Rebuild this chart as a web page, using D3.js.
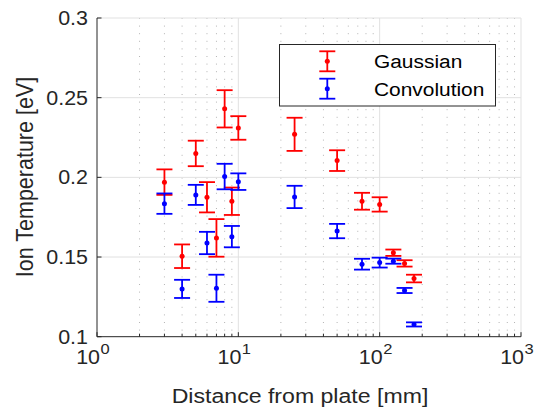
<!DOCTYPE html>
<html>
<head>
<meta charset="utf-8">
<script src="https://cdn.jsdelivr.net/npm/d3@7"></script>
<style>
  html, body { margin: 0; padding: 0; background: #fff; }
  svg { display: block; font-family: "Liberation Sans", Arial, Helvetica, sans-serif; }
</style>
</head>
<body>
<svg id="chart" width="538" height="409"></svg>
<script>
// Distance from the plate [mm]
const distance = [3, 4, 5, 6, 7, 8, 9, 10, 25, 50, 75, 100, 125, 150, 175];

// Ion temperature from the Gaussian fit [eV] and its uncertainty
const gaussian    = [0.197, 0.1505, 0.215, 0.1875, 0.162, 0.243, 0.185, 0.231, 0.227, 0.2105, 0.185, 0.183, 0.1527, 0.146, 0.1365];
const gaussianErr = [0.008, 0.0074, 0.008, 0.0095, 0.0118, 0.0117, 0.0086, 0.0074, 0.0104, 0.0065, 0.0053, 0.0045, 0.002, 0.002, 0.0024];

// Ion temperature from the convolution fit [eV] and its uncertainty
const convolution    = [0.1835, 0.130, 0.189, 0.1588, 0.1304, 0.2005, 0.1628, 0.1973, 0.1877, 0.1663, 0.1455, 0.1465, 0.1474, 0.129, 0.1077];
const convolutionErr = [0.0064, 0.0057, 0.0063, 0.007, 0.0085, 0.008, 0.0067, 0.0052, 0.007, 0.0045, 0.0034, 0.0031, 0.0016, 0.0016, 0.0013];

// Axis ticks
const xTicks = [1, 10, 100, 1000];
const xTickExp = ["0", "1", "2", "3"];
const yTicks = [0.1, 0.15, 0.2, 0.25, 0.3];
const yTickLabels = ["0.1", "0.15", "0.2", "0.25", "0.3"];

const seriesNames = ["Gaussian", "Convolution"];
const seriesColors = ["#ff0000", "#0000ff"];

const svg = d3.select("#chart");
const m = { left: 97, right: 521, top: 18, bottom: 336.7 };
const textColor = "#262626";
const stretch = 1.1; // text is drawn slightly wide

const x = d3.scaleLog().domain([1, 1000]).range([m.left, m.right]);
const y = d3.scaleLinear().domain([0.1, 0.3]).range([m.bottom, m.top]);

// text placed at (px, py), widened horizontally
function label(parent, px, py, str, size, anchor, dy) {
  return parent.append("text")
    .attr("transform", `translate(${px},${py}) scale(${stretch},1)`)
    .attr("text-anchor", anchor || "start")
    .attr("dy", dy || 0)
    .attr("font-size", size)
    .attr("fill", textColor)
    .text(str);
}

// minor log positions 2..9 in each decade
const minor = [];
for (let d = 1; d < 1000; d *= 10) for (let k = 2; k <= 9; k++) minor.push(k * d);

const grid = svg.append("g");
grid.selectAll("line.minor").data(minor).join("line")
  .attr("x1", d => x(d)).attr("x2", d => x(d))
  .attr("y1", m.top).attr("y2", m.bottom)
  .attr("stroke", "#b4b4b4").attr("stroke-width", 1)
  .attr("stroke-dasharray", "1,6.6");
grid.selectAll("line.vmaj").data(xTicks.slice(1)).join("line")
  .attr("x1", d => x(d)).attr("x2", d => x(d))
  .attr("y1", m.top).attr("y2", m.bottom)
  .attr("stroke", "#e1e1e1").attr("stroke-width", 1);
grid.selectAll("line.hmaj").data(yTicks.slice(1)).join("line")
  .attr("class", "hmaj")
  .attr("x1", m.left).attr("x2", m.right)
  .attr("y1", d => y(d)).attr("y2", d => y(d))
  .attr("stroke", "#e1e1e1").attr("stroke-width", 1);

// axis lines and inward ticks
const axes = svg.append("g").attr("stroke", textColor).attr("stroke-width", 1);
axes.append("line").attr("x1", m.left).attr("x2", m.right).attr("y1", m.bottom).attr("y2", m.bottom);
axes.append("line").attr("x1", m.left).attr("x2", m.left).attr("y1", m.top).attr("y2", m.bottom);
axes.selectAll("line.xt").data(minor).join("line")
  .attr("x1", d => x(d)).attr("x2", d => x(d))
  .attr("y1", m.bottom).attr("y2", m.bottom - 3);
axes.selectAll("line.xT").data(xTicks).join("line")
  .attr("x1", d => x(d)).attr("x2", d => x(d))
  .attr("y1", m.bottom).attr("y2", m.bottom - 4.5);
axes.selectAll("line.yT").data(yTicks).join("line")
  .attr("x1", m.left).attr("x2", m.left + 4.5)
  .attr("y1", d => y(d)).attr("y2", d => y(d));

// y tick labels
const yl = svg.append("g");
yTicks.forEach((t, i) => label(yl, m.left - 9, y(t), yTickLabels[i], 19.5, "end", "0.36em"));

// x tick labels: 10 with a raised exponent
const xl = svg.append("g");
xTicks.forEach((t, i) => {
  const cx = x(t) - 2;
  label(xl, cx + 5, 364, "10", 19.5, "end");
  label(xl, cx + 5.5, 354, xTickExp[i], 15, "start");
});

// axis titles
label(svg, 300, 402.5, "Distance from plate [mm]", 21, "middle");
svg.append("text")
  .attr("transform", `translate(33,177) scale(${stretch},1) rotate(-90)`)
  .attr("text-anchor", "middle").attr("font-size", 21.5).attr("fill", textColor)
  .text("Ion Temperature [eV]");

// error bars with caps and centre dots
const capHalf = 8;
function drawSeries(vals, errs, color) {
  const g = svg.append("g").attr("stroke", color).attr("stroke-width", 1.8).attr("fill", color);
  const pts = distance.map((d, i) => ({ d, v: vals[i], e: errs[i] }));
  const bars = g.selectAll("g").data(pts).join("g");
  bars.append("line")
    .attr("x1", p => x(p.d)).attr("x2", p => x(p.d))
    .attr("y1", p => y(p.v + p.e)).attr("y2", p => y(p.v - p.e));
  bars.append("line")
    .attr("x1", p => x(p.d) - capHalf).attr("x2", p => x(p.d) + capHalf)
    .attr("y1", p => y(p.v + p.e)).attr("y2", p => y(p.v + p.e));
  bars.append("line")
    .attr("x1", p => x(p.d) - capHalf).attr("x2", p => x(p.d) + capHalf)
    .attr("y1", p => y(p.v - p.e)).attr("y2", p => y(p.v - p.e));
  bars.append("circle")
    .attr("cx", p => x(p.d)).attr("cy", p => y(p.v)).attr("r", 2.5)
    .attr("stroke", "none");
}
drawSeries(gaussian, gaussianErr, seriesColors[0]);
drawSeries(convolution, convolutionErr, seriesColors[1]);

// legend
const lg = svg.append("g");
lg.append("rect").attr("x", 279.5).attr("y", 44.5).attr("width", 216).attr("height", 61.5)
  .attr("fill", "#fff").attr("stroke", textColor).attr("stroke-width", 1);
seriesNames.forEach((name, i) => {
  const cy = 61.3 + i * 27.4, cx = 327.3;
  const e = lg.append("g").attr("stroke", seriesColors[i]).attr("stroke-width", 1.8).attr("fill", seriesColors[i]);
  e.append("line").attr("x1", cx).attr("x2", cx).attr("y1", cy - 10).attr("y2", cy + 10);
  e.append("line").attr("x1", cx - capHalf).attr("x2", cx + capHalf).attr("y1", cy - 10).attr("y2", cy - 10);
  e.append("line").attr("x1", cx - capHalf).attr("x2", cx + capHalf).attr("y1", cy + 10).attr("y2", cy + 10);
  e.append("circle").attr("cx", cx).attr("cy", cy).attr("r", 2.5).attr("stroke", "none");
  label(lg, 374, cy, name, 19, "start", "0.36em").attr("fill", "#000");
});
</script>
</body>
</html>
